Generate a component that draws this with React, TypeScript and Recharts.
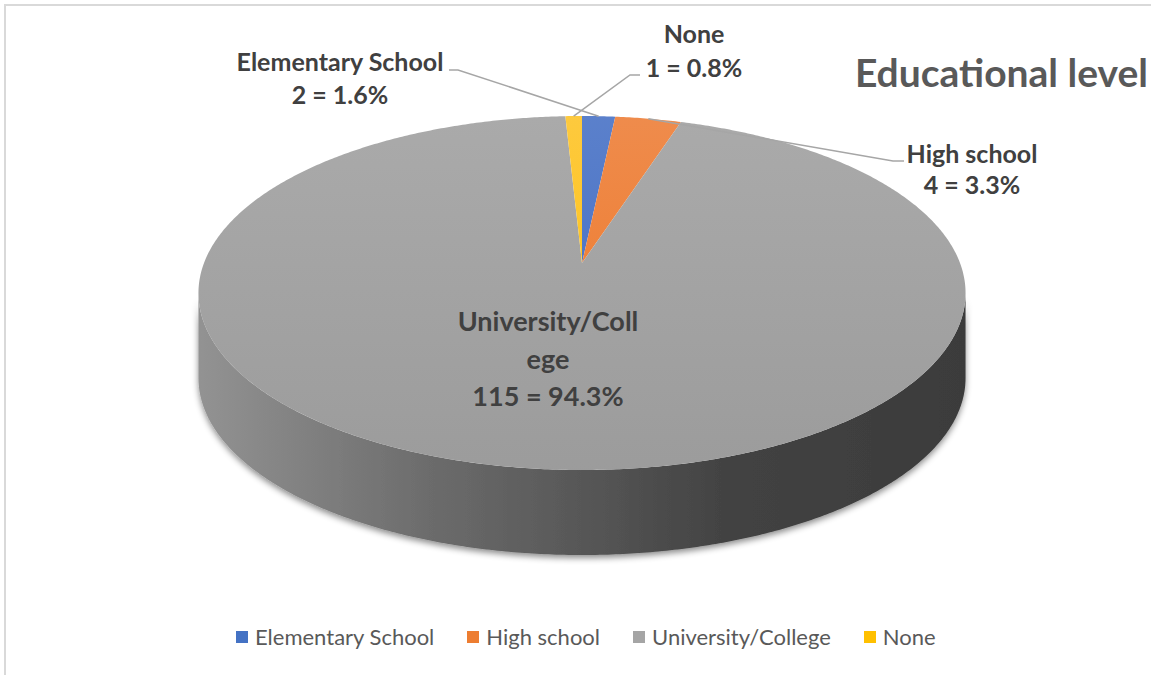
import React from 'react';
import { PieChart, Pie, Cell, Legend } from 'recharts';

// ---------- data ----------
const categories = ['Elementary School', 'High school', 'University/College', 'None'];
const counts = [2, 4, 115, 1];
const labelNameLines = [['Elementary School'], ['High school'], ['University/Coll', 'ege'], ['None']];
const colors = ['#4472C4', '#ED7D31', '#A5A5A5', '#FFC000'];
const title = 'Educational level';

const data = categories.map((name, i) => ({ name, value: counts[i] }));

// ---------- styling / layout ----------
const topGrad = [
  ['#5d82cc', '#3b67c0'],
  ['#ef8d4f', '#ed7421'],
  ['#ababab', '#9b9b9b'],
  ['#fdca42', '#ffbf00'],
];
const FONT = 'Lato, "Open Sans", sans-serif';
const LABEL_COLOR = '#404040';
const TITLE_COLOR = '#595959';

// label placement (Excel had manually placed labels)
const LABEL_LAYOUT: any[] = [
  { x: 340, baselines: [71, 104], size: 25, leader: [[449, 70], [458, 70]] },
  { x: 972, baselines: [163, 194], size: 25, leader: [[904, 161], [893, 161]] },
  { x: 548, baselines: [331, 369, 406], size: 27, leader: null },
  { x: 694, baselines: [43, 77], size: 25, leader: [[640, 75], [630, 75]] },
];

// 3D perspective parameters
const TILT = 0.4548;
const PERSP = 0.1695;
const DEPTH = 0.225;
const RAD = Math.PI / 180;

function proj(cx: number, cy: number, r: number, deg: number): [number, number] {
  const a = deg * RAD;
  const w = 1 + PERSP * Math.sin(a);
  return [cx + (r * Math.cos(a)) / w, cy - (r * TILT * Math.sin(a)) / w];
}

const FRONT_LEFT = -180 + Math.asin(PERSP) / RAD;
const FRONT_RIGHT = -Math.asin(PERSP) / RAD;

function sample(a0: number, a1: number) {
  const n = Math.max(2, Math.ceil(Math.abs(a1 - a0) / 0.5));
  const out: number[] = [];
  for (let i = 0; i <= n; i++) out.push(a0 + ((a1 - a0) * i) / n);
  return out;
}

const Slice = (props: any) => {
  const { cx, cy, outerRadius, startAngle, endAngle } = props;
  const nm = props.name ?? props.payload?.name;
  const idx = Math.max(0, categories.indexOf(nm));
  const r = outerRadius;
  const depth = r * DEPTH;
  const pts = sample(startAngle, endAngle).map((a) => proj(cx, cy, r, a));
  const topPath =
    `M${cx},${cy} ` + pts.map((p) => `L${p[0].toFixed(2)},${p[1].toFixed(2)}`).join(' ') + ' Z';

  const lo = Math.min(startAngle, endAngle);
  const hi = Math.max(startAngle, endAngle);
  const s0 = Math.max(lo, FRONT_LEFT);
  const s1 = Math.min(hi, FRONT_RIGHT);
  let sidePath: string | null = null;
  if (s1 > s0) {
    const angs = sample(s0, s1);
    const upper = angs.map((a) => proj(cx, cy, r, a));
    const lower = angs.map((a) => {
      const p = proj(cx, cy, r, a);
      return [p[0], p[1] + depth];
    }).reverse();
    sidePath =
      'M' +
      upper.map((p) => `${p[0].toFixed(2)},${p[1].toFixed(2)}`).join(' L') +
      ' L' +
      lower.map((p) => `${p[0].toFixed(2)},${p[1].toFixed(2)}`).join(' L') +
      ' Z';
  }
  const xL = cx - r * 1.02;
  const xR = cx + r * 1.02;
  const yT = cy - r * TILT;
  const yB = cy + r * TILT * 1.3;
  return (
    <g>
      <defs>
        <linearGradient id={`top-${idx}`} gradientUnits="userSpaceOnUse" x1={0} y1={yT} x2={0} y2={yB}>
          <stop offset="0%" stopColor={topGrad[idx][0]} />
          <stop offset="100%" stopColor={topGrad[idx][1]} />
        </linearGradient>
        <linearGradient id={`side-${idx}`} gradientUnits="userSpaceOnUse" x1={xL} y1={0} x2={xR} y2={0}>
          <stop offset="0%" stopColor="#939393" />
          <stop offset="30%" stopColor="#6c6c6c" />
          <stop offset="50%" stopColor="#575757" />
          <stop offset="68%" stopColor="#434343" />
          <stop offset="100%" stopColor="#3b3b3b" />
        </linearGradient>
        <filter id={`shadow-${idx}`} x="-10%" y="-20%" width="120%" height="150%">
          <feDropShadow dx="0" dy="3" stdDeviation="3" floodColor="#000" floodOpacity="0.45" />
        </filter>
      </defs>
      {sidePath && <path d={sidePath} fill={`url(#side-${idx})`} filter={`url(#shadow-${idx})`} />}
      <path d={topPath} fill={`url(#top-${idx})`} />
    </g>
  );
};

const renderLabel = (props: any) => {
  const { cx, cy, midAngle, outerRadius, percent, value } = props;
  const nm = props.name ?? props.payload?.name;
  const i = categories.indexOf(nm);
  if (i < 0) return null;
  const lay = LABEL_LAYOUT[i];
  const lines = [...labelNameLines[i], `${value} = ${(percent * 100).toFixed(1)}%`];
  const rim = proj(cx, cy, outerRadius, midAngle);
  return (
    <g key={`lbl-${i}`}>
      {lay.leader && (
        <polyline
          points={[...lay.leader, rim].map((p: number[]) => `${p[0]},${p[1]}`).join(' ')}
          fill="none"
          stroke="#a6a6a6"
          strokeWidth={1.5}
        />
      )}
      {lines.map((t, k) => (
        <text
          key={k}
          x={lay.x}
          y={lay.baselines[k]}
          textAnchor="middle"
          fontFamily={FONT}
          fontWeight={700}
          fontSize={lay.size}
          fill={LABEL_COLOR}
        >
          {t}
        </text>
      ))}
    </g>
  );
};

const renderLegend = (props: any) => {
  const payload = [...(props.payload || [])].sort(
    (a: any, b: any) => categories.indexOf(a.value) - categories.indexOf(b.value)
  );
  return (
    <div style={{ display: 'flex', alignItems: 'center', paddingLeft: 236, fontFamily: FONT, fontSize: 22, color: '#595959' }}>
      {payload.map((p: any, k: number) => (
        <div key={k} style={{ display: 'flex', alignItems: 'center', marginRight: 33 }}>
          <span style={{ display: 'inline-block', width: 12, height: 12, background: p.color, marginRight: 7 }} />
          <span style={{ lineHeight: '26px' }}>{p.value}</span>
        </div>
      ))}
    </div>
  );
};

export default function App() {
  return (
    <div style={{ position: 'fixed', left: 0, top: 0, width: 1151, height: 675, overflow: 'hidden', background: '#fff' }}>
      <div
        style={{
          position: 'absolute',
          left: 4,
          top: 4,
          width: 1147,
          height: 671,
          boxSizing: 'border-box',
          borderTop: '2px solid #d9d9d9',
          borderLeft: '2px solid #d9d9d9',
        }}
      />
      <div style={{ position: 'absolute', left: 0, top: 0 }}>
        <PieChart width={1151} height={675} margin={{ top: 0, right: 0, bottom: 0, left: 0 }}>
          <Pie
            data={data}
            dataKey="value"
            nameKey="name"
            cx={582}
            cy={263}
            innerRadius={0}
            outerRadius={378}
            startAngle={90}
            endAngle={-270}
            stroke="none"
            isAnimationActive={false}
            shape={Slice}
            label={renderLabel}
            labelLine={false}
          >
            {data.map((d, i) => (
              <Cell key={d.name} fill={colors[i]} />
            ))}
          </Pie>
          <Legend
            content={renderLegend}
            wrapperStyle={{ position: 'absolute', left: 0, top: 624, width: 1151 }}
          />
        </PieChart>
      </div>
      <svg width={1151} height={675} style={{ position: 'absolute', left: 0, top: 0, pointerEvents: 'none' }}>
        <text x={1148} y={87} textAnchor="end" fontFamily={FONT} fontWeight={700} fontSize={39} fill={TITLE_COLOR}>
          {title}
        </text>
      </svg>
    </div>
  );
}
